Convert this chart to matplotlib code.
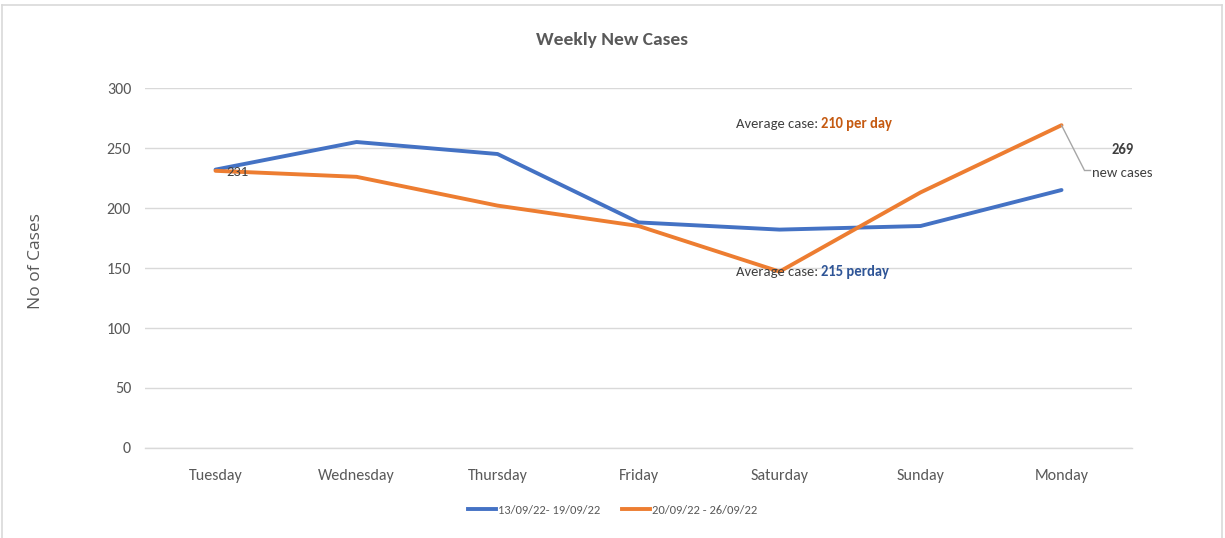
import matplotlib
matplotlib.use("Agg")
from matplotlib import pyplot as plt
from matplotlib import font_manager
from matplotlib.lines import Line2D

days = ['Tuesday', 'Wednesday', 'Thursday', 'Friday', 'Saturday', 'Sunday', 'Monday']
week_1 = [232, 255, 245, 188, 182, 185, 215]
week_2 = [231, 226, 202, 185, 147, 213, 269]
label_1 = '13/09/22- 19/09/22'
label_2 = '20/09/22 - 26/09/22'
y_ticks = [0, 50, 100, 150, 200, 250, 300]

# Calibri-like font if we have one
names = {f.name for f in font_manager.fontManager.ttflist}
main_font = 'Liberation Sans'
for cand in ['Carlito', 'Liberation Sans Narrow', 'Roboto Condensed', 'Barlow Semi Condensed']:
    if cand in names:
        main_font = cand
        break
plt.rcParams['font.family'] = [main_font, 'DejaVu Sans']

blue = '#4472C4'
orange = '#ED7D31'
grey = '#595959'
dark = '#404040'

fig = plt.figure(figsize=(12.25, 5.38), dpi=100)
ax = fig.add_axes([0.1184, 0.1673, 0.8057, 0.6691])

x = list(range(len(days)))
ax.plot(x, week_1, color=blue, lw=2.8, solid_capstyle='round', label=label_1, zorder=3)
ax.plot(x, week_2, color=orange, lw=2.8, solid_capstyle='round', label=label_2, zorder=3)

ax.set_xlim(-0.5, len(days) - 0.5)
ax.set_ylim(0, 300)
ax.set_yticks(y_ticks)
ax.set_xticks(x)
ax.set_xticklabels(days)
ax.grid(axis='y', color='#D9D9D9', lw=1)
ax.axhline(0, color='#D9D9D9', lw=1, clip_on=False, zorder=1)
ax.set_axisbelow(True)
for s in ax.spines.values():
    s.set_visible(False)
ax.tick_params(axis='both', length=0, labelsize=11.5, colors=grey)
ax.tick_params(axis='y', pad=10)
ax.tick_params(axis='x', pad=15)

# title is centred on the whole chart, not the plot area
fig.text(0.4995, 0.9257, 'Weekly New Cases', ha='center', va='center',
         fontsize=14, fontweight='bold', color=grey)
fig.text(0.029, 0.515, 'No of Cases', rotation=90, ha='center', va='center',
         fontsize=12.5, color=grey, family=['Open Sans', 'DejaVu Sans'])

# data label on first orange point
ax.annotate(str(week_2[0]), (0, week_2[0]), xytext=(8, -1), textcoords='offset points',
            ha='left', va='center', fontsize=10.5, color=dark)

# average text, two colours
avg_1 = round(sum(week_1) / len(week_1))
avg_2 = round(sum(week_2) / len(week_2))
t1 = ax.text(3.69, 270, 'Average case: ', ha='left', va='center', fontsize=10.5, color=dark)
ax.annotate(f'{avg_2} per day', xy=(1, 0.5), xycoords=t1, ha='left', va='center',
            fontsize=10.5, color='#C55A11', fontweight='bold')
t2 = ax.text(3.69, 147, 'Average case: ', ha='left', va='center', fontsize=10.5, color=dark)
ax.annotate(f'{avg_1} perday', xy=(1, 0.5), xycoords=t2, ha='left', va='center',
            fontsize=10.5, color='#2F5597', fontweight='bold')

# callout for Monday peak
ax.annotate('', xy=(6, week_2[6]), xytext=(6.16, 232),
            arrowprops=dict(arrowstyle='-', color='#A6A6A6', lw=1,
                            shrinkA=0, shrinkB=0))
ax.plot([6.16, 6.2], [232, 232], color='#A6A6A6', lw=1, zorder=2)
ax.text(6.43, 248, str(week_2[6]), ha='center', va='center', fontsize=10.5,
        color=dark, fontweight='bold')
ax.text(6.43, 229, 'new cases', ha='center', va='center', fontsize=10.5, color=dark)

handles = [Line2D([], [], color=blue, lw=2.8), Line2D([], [], color=orange, lw=2.8)]
fig.legend(handles, [label_1, label_2], loc='center', bbox_to_anchor=(0.5, 0.052),
           ncol=2, frameon=False, fontsize=9, handlelength=2.3, handletextpad=0.15,
           columnspacing=1.7, labelcolor=grey)

# chart border
border = dict(color='#D9D9D9', lw=1.2, transform=fig.transFigure)
fig.add_artist(Line2D([0.002, 0.9975], [0.991, 0.991], **border))
fig.add_artist(Line2D([0.002, 0.002], [0.0, 0.991], **border))
fig.add_artist(Line2D([0.9975, 0.9975], [0.0, 0.991], **border))

fig.savefig('out.png', dpi=100)
